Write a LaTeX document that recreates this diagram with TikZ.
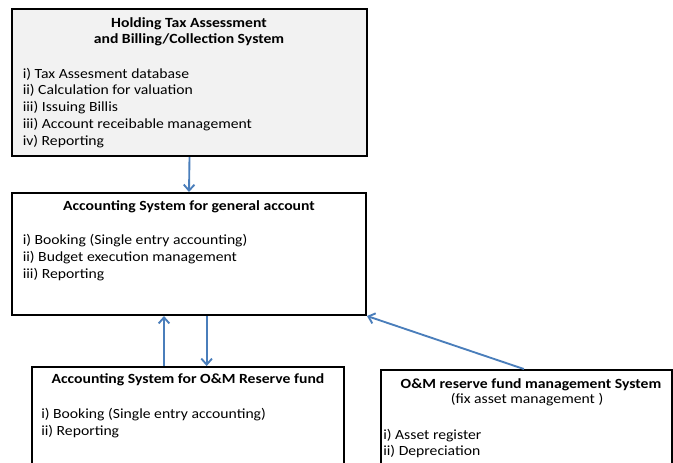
\documentclass[tikz,border=0pt]{standalone}
\usepackage{fontspec}
\setmainfont{Carlito}[FakeStretch=1.12]
\usetikzlibrary{arrows.meta,positioning,fit}
\definecolor{flowblue}{RGB}{74,126,187}
\definecolor{boxgray}{RGB}{242,242,242}
\begin{document}
\begin{tikzpicture}[x=0.75pt,y=-0.75pt,
	box/.style={draw=black,line width=1.5pt,inner sep=0pt},
	flow/.style={draw=flowblue,line width=1.4pt,-{Straight Barb[length=4.5pt,width=8pt]}},
	head/.style={font=\fontsize{10.5}{12.5}\selectfont\bfseries,inner sep=0pt,anchor=base},
	item/.style={font=\fontsize{10.5}{12.5}\selectfont,inner sep=0pt,anchor=base west}]
		\useasboundingbox (0,0) rectangle (673,462);
		% boxes
		\node[box,fill=boxgray,fit={(12,9) (367,156)}] (tax) {};
		\node[box,fit={(12,193) (366,315)}] (general) {};
		\node[box,fit={(32,367) (344,480)}] (omacc) {};
		\node[box,fit={(381,370) (672,480)}] (fam) {};
		% tax box
		\node[head] (taxhead1) at (189,27) {Holding Tax Assessment};
		\node[head] (taxhead2) at (189,43.5) {and Billing/Collection System};
		\foreach \t [count=\i from 0] in {i) Tax Assesment database, ii) Calculation for valuation, iii) Issuing Billis, iii) Account receibable management, iv) Reporting}
			\node[item] (taxitem-\i) at (22.5,78+16.75*\i) {\t};
		% general account box
		\node[head] (genhead) at (189,210) {Accounting System for general account};
		\foreach \t [count=\i from 0] in {i) Booking (Single entry accounting), ii) Budget execution management, iii) Reporting}
			\node[item] (genitem-\i) at (22.5,244+17*\i) {\t};
		% O&M reserve fund accounting
		\node[head] (omhead) at (188,383) {Accounting System for O\&M Reserve fund};
		\foreach \t [count=\i from 0] in {i) Booking (Single entry accounting), ii) Reporting}
			\node[item] (omitem-\i) at (41,418+17*\i) {\t};
		% O&M reserve fund management
		\node[head] (famhead) at (531,388) {O\&M reserve fund management System};
		\node[head,font=\fontsize{10.5}{12.5}\selectfont] (famsub) at (527,403.5) {(fix asset management )};
		\foreach \t [count=\i from 0] in {i) Asset register, ii) Depreciation}
			\node[item] (famitem-\i) at (383,439+16.5*\i) {\t};
		% connectors
		\draw[flow] (tax.south) -- (general.north);
		\draw[flow] ([xshift=-18pt]omacc.north) -- ([xshift=-18pt]omacc.north |- general.south);
		\draw[flow] ([xshift=14pt]omacc.north |- general.south) -- ([xshift=14pt]omacc.north);
		\draw[flow] ([xshift=-2pt]fam.north) -- (general.south east);
\end{tikzpicture}
\end{document}
